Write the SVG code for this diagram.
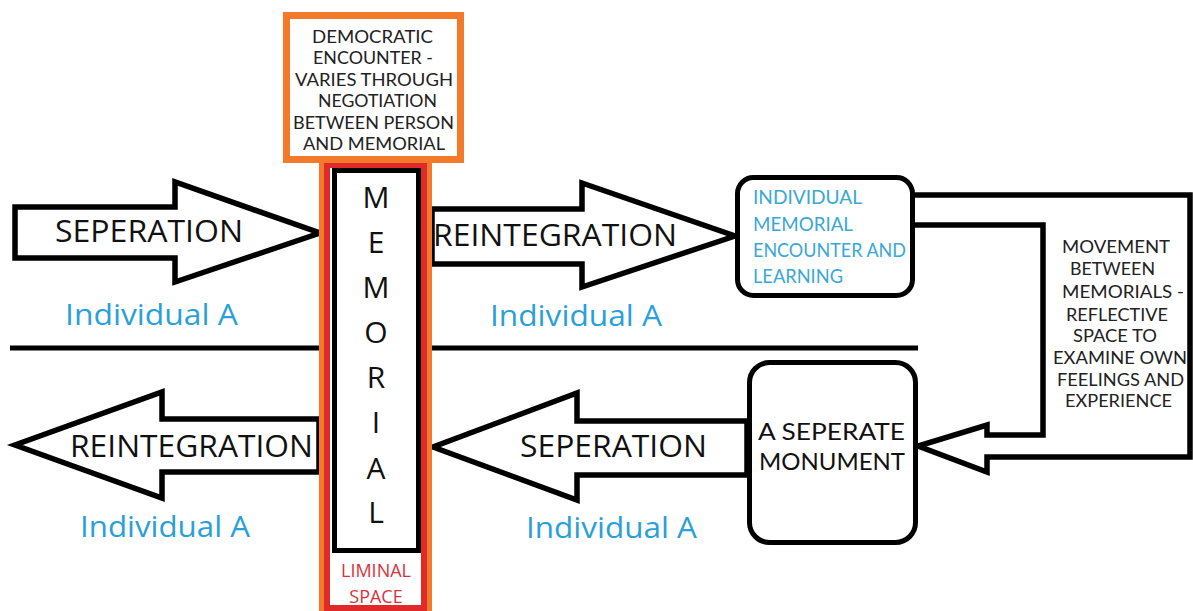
<svg xmlns="http://www.w3.org/2000/svg" width="1193" height="611" viewBox="0 0 1193 611">
<style>
text{font-family:"Open Sans","Liberation Sans",sans-serif;}
.arrow{fill:#fff;stroke:#000;stroke-width:5.5;stroke-linejoin:miter;}
.big{font-size:31px;fill:#111;}
.ind{font-size:30px;fill:#2b9fd8;}
.small{font-family:Lato,"Open Sans",sans-serif;font-size:17.5px;fill:#222;}
.blue{font-family:Lato,"Open Sans",sans-serif;font-size:19px;fill:#3aa7d6;}
.mono{font-family:Lato,"Open Sans",sans-serif;font-size:24px;fill:#111;}
.mem{font-size:30px;fill:#111;text-anchor:middle;}
.lim{font-size:18px;fill:#d8333c;text-anchor:middle;}
.box{fill:#fff;stroke:#000;stroke-width:5;}
</style>
<rect width="1193" height="611" fill="#fff"/>
<g id="divider"><line x1="10" y1="348" x2="918" y2="348" stroke="#000" stroke-width="5"/></g>
<g id="connectors">
<path class="arrow" d="M15,207 H175 V182 L320,233 L175,282 V258 H15 Z"/>
<path class="arrow" d="M432,209 H582 V183 L735,236 L582,287 V264 H432 Z"/>
<path class="arrow" d="M319,419 H162 V392 L15,445 L162,498 V472 H319 Z"/>
<path class="arrow" d="M747,421 H577 V393 L433,447 L577,500 V475 H747 Z"/>
<path class="arrow" d="M915,195 H1190 V457 H987 V472 L918,446 L987,425 V435 H1043 V225 H915"/>
</g>
<g id="labels">
<text class="big" x="55" y="242" textLength="188" lengthAdjust="spacingAndGlyphs">SEPERATION</text>
<text class="ind" x="65" y="325" textLength="173" lengthAdjust="spacingAndGlyphs">Individual A</text>
<text class="big" x="433" y="246" textLength="244" lengthAdjust="spacingAndGlyphs">REINTEGRATION</text>
<text class="ind" x="490" y="326" textLength="172" lengthAdjust="spacingAndGlyphs">Individual A</text>
<text class="big" x="70" y="457" textLength="243" lengthAdjust="spacingAndGlyphs">REINTEGRATION</text>
<text class="ind" x="80" y="537" textLength="170" lengthAdjust="spacingAndGlyphs">Individual A</text>
<text class="big" x="520" y="457" textLength="187" lengthAdjust="spacingAndGlyphs">SEPERATION</text>
<text class="ind" x="526" y="538" textLength="171" lengthAdjust="spacingAndGlyphs">Individual A</text>
</g>
<g id="memorial-column">
<rect x="319" y="162" width="113" height="455" fill="#f47a2b"/>
<rect x="324" y="162" width="103" height="455" fill="#df2a29"/>
<rect x="330" y="168" width="91" height="437" fill="#fff"/>
<rect class="box" x="334.5" y="170.5" width="84" height="380"/>
<text class="mem" x="376" y="208">M</text>
<text class="mem" x="376" y="253">E</text>
<text class="mem" x="376" y="298">M</text>
<text class="mem" x="376" y="343">O</text>
<text class="mem" x="376" y="388">R</text>
<text class="mem" x="376" y="433">I</text>
<text class="mem" x="376" y="479">A</text>
<text class="mem" x="376" y="523">L</text>
<text class="lim" x="376" y="577">LIMINAL</text>
<text class="lim" x="376" y="603">SPACE</text>
</g>
<g id="democratic-encounter">
<rect x="286.5" y="15.5" width="174" height="144" fill="#fff" stroke="#f47a2b" stroke-width="7"/>
<text class="small" x="312" y="43" textLength="121" lengthAdjust="spacingAndGlyphs">DEMOCRATIC</text>
<text class="small" x="313" y="64" textLength="120" lengthAdjust="spacingAndGlyphs">ENCOUNTER -</text>
<text class="small" x="295" y="86" textLength="158" lengthAdjust="spacingAndGlyphs">VARIES THROUGH</text>
<text class="small" x="318" y="107" textLength="119" lengthAdjust="spacingAndGlyphs">NEGOTIATION</text>
<text class="small" x="293" y="129" textLength="161" lengthAdjust="spacingAndGlyphs">BETWEEN PERSON</text>
<text class="small" x="303" y="150" textLength="142" lengthAdjust="spacingAndGlyphs">AND MEMORIAL</text>
</g>
<g id="individual-encounter">
<rect class="box" x="737.5" y="177.5" width="175" height="118" rx="16"/>
<text class="blue" x="753" y="204" textLength="109" lengthAdjust="spacingAndGlyphs">INDIVIDUAL</text>
<text class="blue" x="753" y="231" textLength="100" lengthAdjust="spacingAndGlyphs">MEMORIAL</text>
<text class="blue" x="753" y="257" textLength="153" lengthAdjust="spacingAndGlyphs">ENCOUNTER AND</text>
<text class="blue" x="753" y="283" textLength="90" lengthAdjust="spacingAndGlyphs">LEARNING</text>
</g>
<g id="separate-monument">
<rect class="box" x="749.5" y="362.5" width="166" height="180" rx="20"/>
<text class="mono" x="758" y="440" textLength="147" lengthAdjust="spacingAndGlyphs">A SEPERATE</text>
<text class="mono" x="759" y="470" textLength="146" lengthAdjust="spacingAndGlyphs">MONUMENT</text>
</g>
<g id="movement-label">
<text class="small" x="1062" y="253" textLength="108" lengthAdjust="spacingAndGlyphs">MOVEMENT</text>
<text class="small" x="1070" y="275" textLength="85" lengthAdjust="spacingAndGlyphs">BETWEEN</text>
<text class="small" x="1062" y="298" textLength="122" lengthAdjust="spacingAndGlyphs">MEMORIALS -</text>
<text class="small" x="1066" y="321" textLength="102" lengthAdjust="spacingAndGlyphs">REFLECTIVE</text>
<text class="small" x="1073" y="342" textLength="84" lengthAdjust="spacingAndGlyphs">SPACE TO</text>
<text class="small" x="1053" y="364" textLength="134" lengthAdjust="spacingAndGlyphs">EXAMINE OWN</text>
<text class="small" x="1057" y="386" textLength="127" lengthAdjust="spacingAndGlyphs">FEELINGS AND</text>
<text class="small" x="1065" y="407" textLength="107" lengthAdjust="spacingAndGlyphs">EXPERIENCE</text>
</g>
</svg>
